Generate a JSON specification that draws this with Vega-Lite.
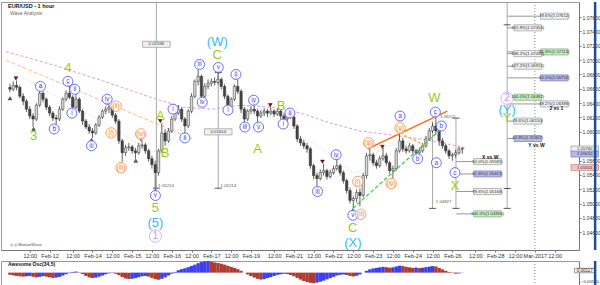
{
"$schema": "https://vega.github.io/schema/vega-lite/v6.json",
"padding": 0,
"spacing": 0,
"background": "white",
"config": {"font": "Liberation Sans", "view": {"stroke": "#999"}},
"datasets": {
"candles": [
{"t":0,"o":1.06621,"h":1.06676,"l":1.06551,"c":1.06593},
{"t":2,"o":1.06593,"h":1.06704,"l":1.06565,"c":1.06648},
{"t":4,"o":1.06648,"h":1.06717,"l":1.06579,"c":1.06621},
{"t":6,"o":1.06621,"h":1.06648,"l":1.06468,"c":1.06496},
{"t":8,"o":1.06496,"h":1.06538,"l":1.06372,"c":1.06427},
{"t":10,"o":1.06427,"h":1.06455,"l":1.06275,"c":1.06316},
{"t":12,"o":1.06316,"h":1.06358,"l":1.06178,"c":1.06220},
{"t":14,"o":1.06220,"h":1.06261,"l":1.06067,"c":1.06178},
{"t":16,"o":1.06178,"h":1.06399,"l":1.06150,"c":1.06372},
{"t":18,"o":1.06372,"h":1.06593,"l":1.06344,"c":1.06538},
{"t":20,"o":1.06538,"h":1.06565,"l":1.06413,"c":1.06455},
{"t":22,"o":1.06455,"h":1.06482,"l":1.06303,"c":1.06344},
{"t":24,"o":1.06344,"h":1.06372,"l":1.06220,"c":1.06261},
{"t":26,"o":1.06261,"h":1.06289,"l":1.06150,"c":1.06192},
{"t":28,"o":1.06192,"h":1.06233,"l":1.06109,"c":1.06178},
{"t":30,"o":1.06178,"h":1.06358,"l":1.06150,"c":1.06316},
{"t":32,"o":1.06316,"h":1.06482,"l":1.06289,"c":1.06455},
{"t":34,"o":1.06455,"h":1.06579,"l":1.06427,"c":1.06538},
{"t":36,"o":1.06538,"h":1.06634,"l":1.06455,"c":1.06482},
{"t":38,"o":1.06482,"h":1.06510,"l":1.06289,"c":1.06344},
{"t":40,"o":1.06344,"h":1.06524,"l":1.06316,"c":1.06455},
{"t":42,"o":1.06455,"h":1.06482,"l":1.06261,"c":1.06289},
{"t":44,"o":1.06289,"h":1.06316,"l":1.06095,"c":1.06150},
{"t":46,"o":1.06150,"h":1.06178,"l":1.06040,"c":1.06067},
{"t":48,"o":1.06067,"h":1.06109,"l":1.05971,"c":1.06012},
{"t":50,"o":1.06012,"h":1.06054,"l":1.05915,"c":1.05984},
{"t":52,"o":1.05984,"h":1.06123,"l":1.05957,"c":1.06095},
{"t":54,"o":1.06095,"h":1.06233,"l":1.06067,"c":1.06206},
{"t":56,"o":1.06206,"h":1.06316,"l":1.06178,"c":1.06289},
{"t":58,"o":1.06289,"h":1.06358,"l":1.06247,"c":1.06316},
{"t":60,"o":1.06316,"h":1.06385,"l":1.06261,"c":1.06344},
{"t":62,"o":1.06344,"h":1.06372,"l":1.06192,"c":1.06233},
{"t":64,"o":1.06233,"h":1.06261,"l":1.06109,"c":1.06150},
{"t":66,"o":1.06150,"h":1.06178,"l":1.05832,"c":1.05874},
{"t":68,"o":1.05874,"h":1.05901,"l":1.05583,"c":1.05708},
{"t":70,"o":1.05708,"h":1.05818,"l":1.05666,"c":1.05777},
{"t":72,"o":1.05777,"h":1.05846,"l":1.05735,"c":1.05791},
{"t":74,"o":1.05791,"h":1.05818,"l":1.05694,"c":1.05735},
{"t":76,"o":1.05735,"h":1.05777,"l":1.05625,"c":1.05708},
{"t":78,"o":1.05708,"h":1.05846,"l":1.05680,"c":1.05805},
{"t":80,"o":1.05805,"h":1.05888,"l":1.05763,"c":1.05818},
{"t":82,"o":1.05818,"h":1.05846,"l":1.05694,"c":1.05735},
{"t":84,"o":1.05735,"h":1.05763,"l":1.05583,"c":1.05625},
{"t":86,"o":1.05625,"h":1.05666,"l":1.05486,"c":1.05542},
{"t":88,"o":1.05542,"h":1.05597,"l":1.05214,"c":1.05431},
{"t":90,"o":1.05431,"h":1.05763,"l":1.05390,"c":1.05735},
{"t":92,"o":1.05735,"h":1.06123,"l":1.05708,"c":1.05984},
{"t":94,"o":1.05984,"h":1.06040,"l":1.05805,"c":1.05874},
{"t":96,"o":1.05874,"h":1.06054,"l":1.05846,"c":1.06012},
{"t":98,"o":1.06012,"h":1.06220,"l":1.05984,"c":1.06178},
{"t":100,"o":1.06178,"h":1.06316,"l":1.06150,"c":1.06261},
{"t":102,"o":1.06261,"h":1.06372,"l":1.06233,"c":1.06316},
{"t":104,"o":1.06316,"h":1.06344,"l":1.06137,"c":1.06178},
{"t":106,"o":1.06178,"h":1.06206,"l":1.05957,"c":1.06081},
{"t":108,"o":1.06081,"h":1.06316,"l":1.06054,"c":1.06289},
{"t":110,"o":1.06289,"h":1.06538,"l":1.06261,"c":1.06496},
{"t":112,"o":1.06496,"h":1.06731,"l":1.06468,"c":1.06704},
{"t":114,"o":1.06704,"h":1.06870,"l":1.06648,"c":1.06773},
{"t":116,"o":1.06773,"h":1.06800,"l":1.06385,"c":1.06496},
{"t":118,"o":1.06496,"h":1.06676,"l":1.06468,"c":1.06634},
{"t":120,"o":1.06634,"h":1.06731,"l":1.06593,"c":1.06676},
{"t":122,"o":1.06676,"h":1.06745,"l":1.06634,"c":1.06704},
{"t":124,"o":1.06704,"h":1.06759,"l":1.06648,"c":1.06690},
{"t":126,"o":1.06690,"h":1.06800,"l":1.06662,"c":1.06731},
{"t":128,"o":1.06731,"h":1.06759,"l":1.06593,"c":1.06634},
{"t":130,"o":1.06634,"h":1.06662,"l":1.06455,"c":1.06496},
{"t":132,"o":1.06496,"h":1.06524,"l":1.06316,"c":1.06358},
{"t":134,"o":1.06358,"h":1.06482,"l":1.06316,"c":1.06455},
{"t":136,"o":1.06455,"h":1.06662,"l":1.06427,"c":1.06634},
{"t":138,"o":1.06634,"h":1.06731,"l":1.06524,"c":1.06565},
{"t":140,"o":1.06565,"h":1.06593,"l":1.06261,"c":1.06316},
{"t":142,"o":1.06316,"h":1.06344,"l":1.06109,"c":1.06178},
{"t":144,"o":1.06178,"h":1.06316,"l":1.06150,"c":1.06289},
{"t":146,"o":1.06289,"h":1.06358,"l":1.06247,"c":1.06316},
{"t":148,"o":1.06316,"h":1.06372,"l":1.06247,"c":1.06289},
{"t":150,"o":1.06289,"h":1.06316,"l":1.06150,"c":1.06220},
{"t":152,"o":1.06220,"h":1.06303,"l":1.06192,"c":1.06261},
{"t":154,"o":1.06261,"h":1.06330,"l":1.06220,"c":1.06289},
{"t":156,"o":1.06289,"h":1.06316,"l":1.06206,"c":1.06261},
{"t":158,"o":1.06261,"h":1.06344,"l":1.06233,"c":1.06289},
{"t":160,"o":1.06289,"h":1.06316,"l":1.06206,"c":1.06247},
{"t":162,"o":1.06247,"h":1.06330,"l":1.06220,"c":1.06289},
{"t":164,"o":1.06289,"h":1.06316,"l":1.06178,"c":1.06220},
{"t":166,"o":1.06220,"h":1.06261,"l":1.06137,"c":1.06178},
{"t":168,"o":1.06178,"h":1.06289,"l":1.06150,"c":1.06261},
{"t":170,"o":1.06261,"h":1.06289,"l":1.06178,"c":1.06206},
{"t":172,"o":1.06206,"h":1.06233,"l":1.06040,"c":1.06081},
{"t":174,"o":1.06081,"h":1.06109,"l":1.05860,"c":1.05901},
{"t":176,"o":1.05901,"h":1.05943,"l":1.05805,"c":1.05846},
{"t":178,"o":1.05846,"h":1.05888,"l":1.05763,"c":1.05805},
{"t":180,"o":1.05805,"h":1.05846,"l":1.05708,"c":1.05763},
{"t":182,"o":1.05763,"h":1.05791,"l":1.05486,"c":1.05528},
{"t":184,"o":1.05528,"h":1.05556,"l":1.05334,"c":1.05390},
{"t":186,"o":1.05390,"h":1.05431,"l":1.05237,"c":1.05348},
{"t":188,"o":1.05348,"h":1.05473,"l":1.05320,"c":1.05431},
{"t":190,"o":1.05431,"h":1.05556,"l":1.05390,"c":1.05459},
{"t":192,"o":1.05459,"h":1.05486,"l":1.05334,"c":1.05376},
{"t":194,"o":1.05376,"h":1.05473,"l":1.05348,"c":1.05431},
{"t":196,"o":1.05431,"h":1.05528,"l":1.05403,"c":1.05486},
{"t":198,"o":1.05486,"h":1.05625,"l":1.05459,"c":1.05528},
{"t":200,"o":1.05528,"h":1.05556,"l":1.05390,"c":1.05431},
{"t":202,"o":1.05431,"h":1.05459,"l":1.05279,"c":1.05320},
{"t":204,"o":1.05320,"h":1.05348,"l":1.05141,"c":1.05182},
{"t":206,"o":1.05182,"h":1.05224,"l":1.05002,"c":1.05044},
{"t":208,"o":1.05044,"h":1.05099,"l":1.04933,"c":1.05071},
{"t":210,"o":1.05071,"h":1.05196,"l":1.05016,"c":1.05154},
{"t":212,"o":1.05154,"h":1.05210,"l":1.04961,"c":1.05113},
{"t":214,"o":1.05113,"h":1.05431,"l":1.05085,"c":1.05390},
{"t":216,"o":1.05390,"h":1.05708,"l":1.05348,"c":1.05666},
{"t":218,"o":1.05666,"h":1.05777,"l":1.05597,"c":1.05680},
{"t":220,"o":1.05680,"h":1.05708,"l":1.05528,"c":1.05569},
{"t":222,"o":1.05569,"h":1.05611,"l":1.05486,"c":1.05528},
{"t":224,"o":1.05528,"h":1.05666,"l":1.05500,"c":1.05625},
{"t":226,"o":1.05625,"h":1.05777,"l":1.05597,"c":1.05666},
{"t":228,"o":1.05666,"h":1.05708,"l":1.05528,"c":1.05569},
{"t":230,"o":1.05569,"h":1.05597,"l":1.05417,"c":1.05459},
{"t":232,"o":1.05459,"h":1.05528,"l":1.05348,"c":1.05486},
{"t":234,"o":1.05486,"h":1.05777,"l":1.05459,"c":1.05735},
{"t":236,"o":1.05735,"h":1.05984,"l":1.05708,"c":1.05874},
{"t":238,"o":1.05874,"h":1.05915,"l":1.05722,"c":1.05763},
{"t":240,"o":1.05763,"h":1.05805,"l":1.05694,"c":1.05735},
{"t":242,"o":1.05735,"h":1.05846,"l":1.05708,"c":1.05805},
{"t":244,"o":1.05805,"h":1.05832,"l":1.05694,"c":1.05735},
{"t":246,"o":1.05735,"h":1.05763,"l":1.05666,"c":1.05708},
{"t":248,"o":1.05708,"h":1.05777,"l":1.05625,"c":1.05735},
{"t":250,"o":1.05735,"h":1.05846,"l":1.05708,"c":1.05805},
{"t":252,"o":1.05805,"h":1.05943,"l":1.05777,"c":1.05901},
{"t":254,"o":1.05901,"h":1.06054,"l":1.05874,"c":1.06012},
{"t":256,"o":1.06012,"h":1.06123,"l":1.05984,"c":1.06081},
{"t":258,"o":1.06081,"h":1.06206,"l":1.05971,"c":1.06012},
{"t":260,"o":1.06012,"h":1.06054,"l":1.05805,"c":1.05874},
{"t":262,"o":1.05874,"h":1.05915,"l":1.05763,"c":1.05805},
{"t":264,"o":1.05805,"h":1.05832,"l":1.05694,"c":1.05735},
{"t":266,"o":1.05735,"h":1.05763,"l":1.05625,"c":1.05666},
{"t":268,"o":1.05666,"h":1.05708,"l":1.05597,"c":1.05680},
{"t":270,"o":1.05680,"h":1.05749,"l":1.05639,"c":1.05708},
{"t":272,"o":1.05708,"h":1.05791,"l":1.05680,"c":1.05763},
{"t":274,"o":1.05763,"h":1.05791,"l":1.05694,"c":1.05760}
],
"ao": [
{"t":0,"v":-0.0012,"d":"d"},{"t":2,"v":-0.0015,"d":"d"},{"t":4,"v":-0.0018,"d":"d"},{"t":6,"v":-0.0020,"d":"d"},
{"t":8,"v":-0.0022,"d":"d"},{"t":10,"v":-0.0020,"d":"u"},{"t":12,"v":-0.0018,"d":"u"},{"t":14,"v":-0.0023,"d":"d"},
{"t":16,"v":-0.0026,"d":"d"},{"t":18,"v":-0.0023,"d":"u"},{"t":20,"v":-0.0019,"d":"u"},{"t":22,"v":-0.0022,"d":"d"},
{"t":24,"v":-0.0026,"d":"d"},{"t":26,"v":-0.0029,"d":"d"},{"t":28,"v":-0.0027,"d":"u"},{"t":30,"v":-0.0023,"d":"u"},
{"t":32,"v":-0.0016,"d":"u"},{"t":34,"v":-0.0009,"d":"u"},{"t":36,"v":-0.0003,"d":"u"},{"t":38,"v":0.0004,"d":"u"},
{"t":40,"v":0.0006,"d":"u"},{"t":42,"v":0.0002,"d":"d"},{"t":44,"v":-0.0008,"d":"d"},{"t":46,"v":-0.0018,"d":"d"},
{"t":48,"v":-0.0026,"d":"d"},{"t":50,"v":-0.0030,"d":"d"},{"t":52,"v":-0.0027,"d":"u"},{"t":54,"v":-0.0022,"d":"u"},
{"t":56,"v":-0.0016,"d":"u"},{"t":58,"v":-0.0009,"d":"u"},{"t":60,"v":-0.0004,"d":"u"},{"t":62,"v":-0.0002,"d":"u"},
{"t":64,"v":-0.0006,"d":"d"},{"t":66,"v":-0.0014,"d":"d"},{"t":68,"v":-0.0024,"d":"d"},{"t":70,"v":-0.0032,"d":"d"},
{"t":72,"v":-0.0035,"d":"d"},{"t":74,"v":-0.0034,"d":"u"},{"t":76,"v":-0.0030,"d":"u"},{"t":78,"v":-0.0025,"d":"u"},
{"t":80,"v":-0.0020,"d":"u"},{"t":82,"v":-0.0018,"d":"u"},{"t":84,"v":-0.0022,"d":"d"},{"t":86,"v":-0.0029,"d":"d"},
{"t":88,"v":-0.0036,"d":"d"},{"t":90,"v":-0.0039,"d":"d"},{"t":92,"v":-0.0034,"d":"u"},{"t":94,"v":-0.0026,"d":"u"},
{"t":96,"v":-0.0016,"d":"u"},{"t":98,"v":-0.0006,"d":"u"},{"t":100,"v":0.0004,"d":"u"},{"t":102,"v":0.0013,"d":"u"},
{"t":104,"v":0.0019,"d":"u"},{"t":106,"v":0.0024,"d":"u"},{"t":108,"v":0.0030,"d":"u"},{"t":110,"v":0.0037,"d":"u"},
{"t":112,"v":0.0044,"d":"u"},{"t":114,"v":0.0052,"d":"u"},{"t":116,"v":0.0058,"d":"u"},{"t":118,"v":0.0062,"d":"u"},
{"t":120,"v":0.0064,"d":"u"},{"t":122,"v":0.0060,"d":"d"},{"t":124,"v":0.0056,"d":"d"},{"t":126,"v":0.0053,"d":"d"},
{"t":128,"v":0.0049,"d":"d"},{"t":130,"v":0.0044,"d":"d"},{"t":132,"v":0.0038,"d":"d"},{"t":134,"v":0.0032,"d":"d"},
{"t":136,"v":0.0026,"d":"d"},{"t":138,"v":0.0019,"d":"d"},{"t":140,"v":0.0010,"d":"d"},{"t":142,"v":0.0000,"d":"d"},
{"t":144,"v":-0.0010,"d":"d"},{"t":146,"v":-0.0019,"d":"d"},{"t":148,"v":-0.0027,"d":"d"},{"t":150,"v":-0.0034,"d":"d"},
{"t":152,"v":-0.0038,"d":"d"},{"t":154,"v":-0.0036,"d":"u"},{"t":156,"v":-0.0030,"d":"u"},{"t":158,"v":-0.0024,"d":"u"},
{"t":160,"v":-0.0018,"d":"u"},{"t":162,"v":-0.0012,"d":"u"},{"t":164,"v":-0.0009,"d":"u"},{"t":166,"v":-0.0006,"d":"u"},
{"t":168,"v":-0.0008,"d":"d"},{"t":170,"v":-0.0013,"d":"d"},{"t":172,"v":-0.0020,"d":"d"},{"t":174,"v":-0.0029,"d":"d"},
{"t":176,"v":-0.0038,"d":"d"},{"t":178,"v":-0.0046,"d":"d"},{"t":180,"v":-0.0052,"d":"d"},{"t":182,"v":-0.0056,"d":"d"},
{"t":184,"v":-0.0058,"d":"d"},{"t":186,"v":-0.0055,"d":"u"},{"t":188,"v":-0.0050,"d":"u"},{"t":190,"v":-0.0044,"d":"u"},
{"t":192,"v":-0.0037,"d":"u"},{"t":194,"v":-0.0030,"d":"u"},{"t":196,"v":-0.0023,"d":"u"},{"t":198,"v":-0.0016,"d":"u"},
{"t":200,"v":-0.0012,"d":"u"},{"t":202,"v":-0.0010,"d":"u"},{"t":204,"v":-0.0013,"d":"d"},{"t":206,"v":-0.0018,"d":"d"},
{"t":208,"v":-0.0021,"d":"d"},{"t":210,"v":-0.0017,"d":"u"},{"t":212,"v":-0.0010,"d":"u"},{"t":214,"v":0.0000,"d":"u"},
{"t":216,"v":0.0010,"d":"u"},{"t":218,"v":0.0018,"d":"u"},{"t":220,"v":0.0023,"d":"u"},{"t":222,"v":0.0026,"d":"u"},
{"t":224,"v":0.0029,"d":"u"},{"t":226,"v":0.0032,"d":"u"},{"t":228,"v":0.0030,"d":"d"},{"t":230,"v":0.0027,"d":"d"},
{"t":232,"v":0.0029,"d":"u"},{"t":234,"v":0.0034,"d":"u"},{"t":236,"v":0.0038,"d":"u"},{"t":238,"v":0.0036,"d":"d"},
{"t":240,"v":0.0032,"d":"d"},{"t":242,"v":0.0029,"d":"d"},{"t":244,"v":0.0026,"d":"d"},{"t":246,"v":0.0028,"d":"u"},
{"t":248,"v":0.0025,"d":"d"},{"t":250,"v":0.0027,"d":"u"},{"t":252,"v":0.0030,"d":"u"},{"t":254,"v":0.0033,"d":"u"},
{"t":256,"v":0.0036,"d":"u"},{"t":258,"v":0.0034,"d":"d"},{"t":260,"v":0.0026,"d":"d"},{"t":262,"v":0.0018,"d":"d"},
{"t":264,"v":0.0010,"d":"d"},{"t":266,"v":0.0004,"d":"d"},{"t":268,"v":-0.0002,"d":"d"},{"t":270,"v":-0.0006,"d":"d"},
{"t":272,"v":-0.0004,"d":"u"},{"t":274,"v":-0.0001,"d":"u"}
],
"lows": [
{"t":0,"p":1.06468},{"t":14.3,"p":1.06040},{"t":27.4,"p":1.06081},{"t":49.4,"p":1.05888},{"t":67.3,"p":1.05556},
{"t":76.2,"p":1.05597},{"t":88.1,"p":1.05182},{"t":106,"p":1.05929},{"t":142.3,"p":1.06081},{"t":150,"p":1.06123},
{"t":186.3,"p":1.05210},{"t":207.7,"p":1.04905},{"t":231,"p":1.05320}
],
"highs": [
{"t":3.6,"p":1.06745},{"t":18.5,"p":1.06621},{"t":35.1,"p":1.06662},{"t":58.9,"p":1.06399},{"t":79.2,"p":1.05901},
{"t":91.1,"p":1.06150},{"t":126.2,"p":1.06828},{"t":136.9,"p":1.06759},{"t":147.6,"p":1.06399},{"t":157.7,"p":1.06372},
{"t":189.3,"p":1.05583},{"t":197.6,"p":1.05639},{"t":217.3,"p":1.05805},{"t":225.6,"p":1.05791},{"t":236.3,"p":1.06012},
{"t":257.7,"p":1.06233}
],
"blue": [
{"t":18.5,"p":1.06634,"s":"a"},{"t":26.8,"p":1.06040,"s":"b"},{"t":35.1,"p":1.06704,"s":"c"},{"t":39.3,"p":1.06593,"s":"ii"},
{"t":37.5,"p":1.06261,"s":"i"},{"t":49.4,"p":1.05805,"s":"iii"},{"t":58.9,"p":1.06455,"s":"iv"},{"t":88.1,"p":1.05113,"s":"v"},
{"t":98.8,"p":1.06316,"s":"i"},{"t":106,"p":1.05915,"s":"ii"},{"t":114.9,"p":1.06939,"s":"iii"},{"t":116.5,"p":1.06413,"s":"iv"},
{"t":126.2,"p":1.06897,"s":"v"},{"t":136.9,"p":1.06800,"s":"ii"},{"t":132.1,"p":1.06303,"s":"i"},{"t":142.3,"p":1.06067,"s":"iii"},
{"t":147.6,"p":1.06441,"s":"iv"},{"t":150.6,"p":1.06067,"s":"v"},{"t":165.5,"p":1.06109,"s":"i"},{"t":169.6,"p":1.06261,"s":"ii"},
{"t":186.3,"p":1.05168,"s":"iii"},{"t":197.6,"p":1.05680,"s":"iv"},{"t":207.7,"p":1.04837,"s":"v"},{"t":236.3,"p":1.06220,"s":"a"},
{"t":257.7,"p":1.06275,"s":"c"},{"t":261.3,"p":1.06081,"s":"b"},{"t":247,"p":1.05625,"s":"b"},{"t":258.3,"p":1.05569,"s":"a"},
{"t":269.6,"p":1.05431,"s":"c"}
],
"orange": [
{"t":61.3,"p":1.05984,"s":"(i)"},{"t":64.3,"p":1.06358,"s":"(ii)"},{"t":67.3,"p":1.05500,"s":"(iii)"},{"t":79.2,"p":1.05971,"s":"(iv)"},
{"t":210.7,"p":1.05307,"s":"(i)"},{"t":212.5,"p":1.04850,"s":"(ii)"},{"t":217.3,"p":1.05846,"s":"(iii)"},{"t":231,"p":1.05279,"s":"(iv)"},
{"t":236.3,"p":1.06054,"s":"(v)"}
],
"green": [
{"t":35.1,"p":1.06883,"s":"4"},{"t":14.3,"p":1.05943,"s":"3"},{"t":88.1,"p":1.04933,"s":"5"},{"t":91.1,"p":1.06220,"s":"A"},
{"t":94,"p":1.05708,"s":"B"},{"t":125.6,"p":1.07077,"s":"C"},{"t":150,"p":1.05763,"s":"A"},{"t":164.3,"p":1.06358,"s":"B"},
{"t":207.7,"p":1.04657,"s":"C"},{"t":257.1,"p":1.06468,"s":"W"},{"t":269.6,"p":1.05251,"s":"X"},{"t":301.2,"p":1.06192,"s":"Y"}
],
"cyan": [
{"t":88.1,"p":1.04726,"s":"(5)"},{"t":125.6,"p":1.07257,"s":"(W)"},{"t":207.7,"p":1.04449,"s":"(X)"},{"t":301.2,"p":1.06303,"s":"(Y)"}
],
"purple": [
{"t":88.1,"p":1.04546,"s":"1"},{"t":301.2,"p":1.06468,"s":"2"}
],
"lines": [
{"id":"ma","t":-2.4,"p":1.07119},{"id":"ma","t":27.4,"p":1.06925},{"id":"ma","t":57.1,"p":1.06704},{"id":"ma","t":86.9,"p":1.06468},
{"id":"ma","t":104.8,"p":1.06344},{"id":"ma","t":122.6,"p":1.06316},{"id":"ma","t":140.5,"p":1.06372},{"id":"ma","t":158.3,"p":1.06344},
{"id":"ma","t":176.2,"p":1.06261},{"id":"ma","t":194,"p":1.06123},{"id":"ma","t":211.9,"p":1.06012},{"id":"ma","t":235.7,"p":1.05943},
{"id":"ma","t":259.5,"p":1.05860},{"id":"ma","t":275.6,"p":1.05777},
{"id":"od","t":-2.4,"p":1.06998},{"id":"od","t":110.7,"p":1.05901},
{"id":"lb","t":6.5,"p":1.06773},{"id":"lb","t":33.3,"p":1.06427},{"id":"lb","t":63.1,"p":1.06040},{"id":"lb","t":86.9,"p":1.05735},
{"id":"lb","t":91.1,"p":1.05708},{"id":"lb","t":101.8,"p":1.06012},{"id":"lb","t":116.7,"p":1.06427},{"id":"lb","t":131.5,"p":1.06676},
{"id":"lb","t":137.5,"p":1.06634},{"id":"lb","t":152.4,"p":1.06316},{"id":"lb","t":176.2,"p":1.05943},{"id":"lb","t":200,"p":1.05597},
{"id":"lb","t":208.9,"p":1.05431},{"id":"lb","t":223.8,"p":1.05735},{"id":"lb","t":241.7,"p":1.05874},{"id":"lb","t":265.5,"p":1.05971},
{"id":"os","t":216.7,"p":1.05763},{"id":"os","t":264.9,"p":1.06289},
{"id":"gd","t":207.7,"p":1.04933},{"id":"gd","t":261.3,"p":1.06040},
{"id":"yd","t":236.3,"p":1.05984},{"id":"yd","t":251.8,"p":1.05805}
],
"verts": [
{"t":88.7,"p":1.0781,"p2":1.05214},{"t":126.2,"p":1.06828,"p2":1.05214},{"t":301.2,"p":1.0781,"p2":1.04933},
{"t":270.2,"p":1.06192,"p2":1.04933},{"t":256,"p":1.0615,"p2":1.04933}
],
"tees": [
{"t":88.7,"p":1.05214},{"t":126.2,"p":1.05214},{"t":126.2,"p":1.06828},{"t":301.2,"p":1.07492},{"t":301.2,"p":1.05210},
{"t":301.2,"p":1.04933},{"t":270.2,"p":1.06192},{"t":270.2,"p":1.04933},{"t":256,"p":1.04933}
],
"fibl": [
{"t":301.2,"t2":324.4,"p":1.07612},{"t":301.2,"t2":306,"p":1.07450},{"t":301.2,"t2":324.4,"p":1.07114},{"t":301.2,"t2":306,"p":1.07090},
{"t":301.2,"t2":306,"p":1.06915},{"t":301.2,"t2":324.4,"p":1.06752},{"t":301.2,"t2":306,"p":1.06482},{"t":301.2,"t2":324.4,"p":1.06389},
{"t":301.2,"t2":306,"p":1.06150},{"t":301.2,"t2":306,"p":1.05907},
{"t":270.2,"t2":281.5,"p":1.05585},{"t":270.2,"t2":281.5,"p":1.05413},{"t":270.2,"t2":281.5,"p":1.05168},{"t":270.2,"t2":281.5,"p":1.04856}
],
"fibb": [
{"t":329.8,"p":1.07612,"s":"78.6%(1.07612)","k":"g"},{"t":313.7,"p":1.07450,"s":"161.8%(1.07450)","k":"g"},
{"t":329.8,"p":1.07114,"s":"61.8%(1.07114)","k":"n"},{"t":313.7,"p":1.07090,"s":"138.2%(1.07090)","k":"g"},
{"t":313.7,"p":1.06915,"s":"127.2%(1.06915)","k":"g"},{"t":329.8,"p":1.06752,"s":"50.0%(1.06752)","k":"b"},
{"t":313.7,"p":1.06482,"s":"100.0%(1.06482)","k":"n"},{"t":329.8,"p":1.06389,"s":"38.2%(1.06389)","k":"g"},
{"t":313.7,"p":1.06150,"s":"78.6%(1.06150)","k":"g"},{"t":313.7,"p":1.05907,"s":"61.8%(1.05907)","k":"b"},
{"t":289.3,"p":1.05585,"s":"50.0%(1.05585)","k":"g"},{"t":289.3,"p":1.05413,"s":"61.8%(1.05413)","k":"b"},
{"t":289.3,"p":1.05168,"s":"78.6%(1.05168)","k":"g"},{"t":289.3,"p":1.04856,"s":"100.0%(1.04856)","k":"n"},
{"t":88.7,"p":1.07220,"s":"0.02596","k":"g"},{"t":126.2,"p":1.06000,"s":"0.01614","k":"g"},
{"t":348.2,"p":1.05760,"s":"1.05760","k":"g"},{"t":348.2,"p":1.05690,"s":"1.05612","k":"b"},{"t":348.2,"p":1.05501,"s":"1.05501","k":"r"}
],
"notes": [
{"t":89.9,"p":1.05245,"s":"1.05214"},{"t":127.6,"p":1.05245,"s":"1.05214"},{"t":260.5,"p":1.06200,"s":"1.06212"},{"t":258,"p":1.05016,"s":"1.04827"}
],
"bold": [
{"t":291,"p":1.05650,"s":"X vs W"},{"t":331,"p":1.06330,"s":"2 vs 1"},{"t":319,"p":1.05818,"s":"Y vs W"}
]
},
"vconcat": [
{
"width": 578, "height": 248,
"resolve": {"axis": {"y": "independent"}},
"encoding": {"x": {"field": "t", "type": "quantitative", "scale": {"domain": [-2.4, 341.7], "nice": false, "zero": false},
 "axis": {"title": null, "grid": false, "values": [12,24,38,50,62,74,86,98,110,122,134,146,160,172,184,196,208,220,232,244,256,268,282,294,306,318,330],
 "labelExpr": "['12:00','Feb-12','12:00','Feb-14','12:00','Feb-15','12:00','Feb-16','12:00','Feb-17','12:00','Feb-19','12:00','Feb-21','12:00','Feb-22','12:00','Feb-23','12:00','Feb-24','12:00','Feb-26','12:00','Feb-28','12:00','Mar-2017','12:00'][indexof([12,24,38,50,62,74,86,98,110,122,134,146,160,172,184,196,208,220,232,244,256,268,282,294,306,318,330], datum.value)]",
 "tickSize": 2, "labelFontSize": 5.5, "labelPadding": 1, "labelColor": "#333", "domainColor": "#777", "tickColor": "#777", "labelOverlap": false, "labelFlush": false}}},
"layer": [
{"data": {"values": [{"t": 318}]}, "mark": {"type": "rule", "color": "#888", "strokeDash": [1, 2], "strokeWidth": 1}, "encoding": {}},
{"data": {"name": "lines"}, "transform": [{"filter": "datum.id == 'ma'"}], "mark": {"type": "line", "color": "#dd9ddd", "strokeWidth": 1, "strokeDash": [3, 2]},
 "encoding": {"y": {"field": "p", "type": "quantitative", "scale": {"domain": [1.043525, 1.0781], "nice": false, "zero": false}, "axis": null}}},
{"data": {"name": "lines"}, "transform": [{"filter": "datum.id == 'od'"}], "mark": {"type": "line", "color": "#ffbb88", "strokeWidth": 1, "strokeDash": [4, 2]},
 "encoding": {"y": {"field": "p", "type": "quantitative", "axis": null}}},
{"data": {"name": "lines"}, "transform": [{"filter": "datum.id == 'lb'"}], "mark": {"type": "line", "color": "#a9c6ff", "strokeWidth": 0.8, "strokeDash": [1, 2], "interpolate": "monotone"},
 "encoding": {"y": {"field": "p", "type": "quantitative", "axis": null}}},
{"data": {"name": "verts"}, "mark": {"type": "rule", "color": "#aaa", "strokeWidth": 1},
 "encoding": {"y": {"field": "p", "type": "quantitative", "axis": null}, "y2": {"field": "p2"}}},
{"data": {"name": "fibl"}, "mark": {"type": "rule", "color": "#999", "strokeWidth": 1},
 "encoding": {"x2": {"field": "t2"}, "y": {"field": "p", "type": "quantitative", "axis": null}}},
{"data": {"name": "tees"}, "mark": {"type": "tick", "orient": "horizontal", "color": "#111", "size": 7, "thickness": 1},
 "encoding": {"y": {"field": "p", "type": "quantitative", "axis": null}}},
{"data": {"name": "candles"}, "mark": {"type": "rule", "color": "#3a3a3a", "strokeWidth": 0.8},
 "encoding": {"y": {"field": "l", "type": "quantitative", "axis": {"orient": "right", "title": null, "grid": false, "format": ".5f",
   "values": [1.046,1.048,1.05,1.052,1.054,1.056,1.06,1.062,1.064,1.066,1.068,1.07,1.072,1.074,1.076],
   "tickSize": 2, "labelFontSize": 5, "labelPadding": 1, "labelColor": "#333", "domainColor": "#777", "tickColor": "#777"}}, "y2": {"field": "h"}}},
{"data": {"name": "candles"}, "mark": {"type": "bar", "size": 2.4, "stroke": "#303030", "strokeWidth": 0.5},
 "encoding": {"y": {"field": "o", "type": "quantitative", "axis": null}, "y2": {"field": "c"},
  "fill": {"condition": {"test": "datum.c < datum.o", "value": "#454545"}, "value": "#d8d8d8"}}},
{"data": {"name": "lines"}, "transform": [{"filter": "datum.id == 'os'"}], "mark": {"type": "line", "color": "#ff6a10", "strokeWidth": 1.5},
 "encoding": {"y": {"field": "p", "type": "quantitative", "axis": null}}},
{"data": {"name": "lines"}, "transform": [{"filter": "datum.id == 'gd'"}], "mark": {"type": "line", "color": "#33cc33", "strokeWidth": 1.2, "strokeDash": [4, 2]},
 "encoding": {"y": {"field": "p", "type": "quantitative", "axis": null}}},
{"data": {"name": "lines"}, "transform": [{"filter": "datum.id == 'yd'"}], "mark": {"type": "line", "color": "#ffaa22", "strokeWidth": 1.2, "strokeDash": [3, 2]},
 "encoding": {"y": {"field": "p", "type": "quantitative", "axis": null}}},
{"data": {"name": "lows"}, "mark": {"type": "point", "shape": "triangle-up", "filled": true, "fill": "#2e8b2e", "stroke": "#113311", "strokeWidth": 0.5, "size": 14, "opacity": 1},
 "encoding": {"y": {"field": "p", "type": "quantitative", "axis": null}}},
{"data": {"name": "highs"}, "mark": {"type": "point", "shape": "triangle-down", "filled": true, "fill": "#7a1a1a", "stroke": "#330000", "strokeWidth": 0.5, "size": 14, "opacity": 1},
 "encoding": {"y": {"field": "p", "type": "quantitative", "axis": null}}},
{"data": {"name": "blue"}, "mark": {"type": "point", "shape": "circle", "filled": true, "fill": "white", "fillOpacity": 0.85, "stroke": "#6b6bff", "strokeWidth": 1, "size": 100, "opacity": 1},
 "encoding": {"y": {"field": "p", "type": "quantitative", "axis": null}}},
{"data": {"name": "blue"}, "mark": {"type": "text", "color": "#4a4af0", "fontSize": 6.5, "baseline": "middle", "align": "center"},
 "encoding": {"y": {"field": "p", "type": "quantitative", "axis": null}, "text": {"field": "s"}}},
{"data": {"name": "orange"}, "mark": {"type": "point", "shape": "circle", "filled": true, "fill": "white", "fillOpacity": 0.85, "stroke": "#ffa060", "strokeWidth": 1, "size": 110, "opacity": 1},
 "encoding": {"y": {"field": "p", "type": "quantitative", "axis": null}}},
{"data": {"name": "orange"}, "mark": {"type": "text", "color": "#ff7a20", "fontSize": 6.5, "baseline": "middle", "align": "center"},
 "encoding": {"y": {"field": "p", "type": "quantitative", "axis": null}, "text": {"field": "s"}}},
{"data": {"name": "green"}, "mark": {"type": "text", "color": "#99cc11", "fontSize": 13, "baseline": "middle", "align": "center"},
 "encoding": {"y": {"field": "p", "type": "quantitative", "axis": null}, "text": {"field": "s"}}},
{"data": {"name": "cyan"}, "mark": {"type": "text", "color": "#33bbee", "fontSize": 13, "baseline": "middle", "align": "center"},
 "encoding": {"y": {"field": "p", "type": "quantitative", "axis": null}, "text": {"field": "s"}}},
{"data": {"name": "purple"}, "mark": {"type": "point", "shape": "circle", "filled": true, "fill": "white", "fillOpacity": 0.7, "stroke": "#d6b0ff", "strokeWidth": 1, "size": 150, "opacity": 1},
 "encoding": {"y": {"field": "p", "type": "quantitative", "axis": null}}},
{"data": {"name": "purple"}, "mark": {"type": "text", "color": "#cc99ff", "fontSize": 11, "baseline": "middle", "align": "center"},
 "encoding": {"y": {"field": "p", "type": "quantitative", "axis": null}, "text": {"field": "s"}}},
{"data": {"name": "fibb"}, "mark": {"type": "point", "shape": "M-1,-0.22L1,-0.22L1,0.22L-1,0.22Z", "filled": true, "size": 760, "strokeWidth": 0.6, "opacity": 1},
 "encoding": {"y": {"field": "p", "type": "quantitative", "axis": null},
  "fill": {"field": "k", "type": "nominal", "scale": {"domain": ["g","n","b","r"], "range": ["#f0f0f0","#c6efbd","#b4b8ea","#f3c4c4"]}, "legend": null},
  "stroke": {"field": "k", "type": "nominal", "scale": {"domain": ["g","n","b","r"], "range": ["#8a8a8a","#6aa060","#6a70c0","#c07070"]}, "legend": null}}},
{"data": {"name": "fibb"}, "mark": {"type": "text", "color": "#333", "fontSize": 4.3, "baseline": "middle", "align": "center"},
 "encoding": {"y": {"field": "p", "type": "quantitative", "axis": null}, "text": {"field": "s"}}},
{"data": {"name": "notes"}, "mark": {"type": "text", "color": "#555", "fontSize": 4.3, "baseline": "middle", "align": "left"},
 "encoding": {"y": {"field": "p", "type": "quantitative", "axis": null}, "text": {"field": "s"}}},
{"data": {"name": "bold"}, "mark": {"type": "text", "color": "#111", "fontSize": 5, "fontWeight": "bold", "baseline": "middle", "align": "center"},
 "encoding": {"y": {"field": "p", "type": "quantitative", "axis": null}, "text": {"field": "s"}}},
{"data": {"values": [{"t": -1.2, "p": 1.0778, "s": "EUR/USD - 1 hour"}]}, "mark": {"type": "text", "color": "#111", "fontSize": 5.5, "fontWeight": "bold", "baseline": "top", "align": "left"},
 "encoding": {"y": {"field": "p", "type": "quantitative", "axis": null}, "text": {"field": "s"}}},
{"data": {"values": [{"t": 0, "p": 1.07655, "s": "Wave Analysis"}]}, "mark": {"type": "text", "color": "#666", "fontSize": 5, "baseline": "middle", "align": "left"},
 "encoding": {"y": {"field": "p", "type": "quantitative", "axis": null}, "text": {"field": "s"}}},
{"data": {"values": [{"t": 0, "p": 1.04420, "s": "◎ ◎  MotiveWave"}]}, "mark": {"type": "text", "color": "#555", "fontSize": 4.3, "baseline": "middle", "align": "left"},
 "encoding": {"y": {"field": "p", "type": "quantitative", "axis": null}, "text": {"field": "s"}}},
{"data": {"values": [{"t": 354.5}]}, "mark": {"type": "rule", "color": "#1f4f8f", "strokeWidth": 2.5},
 "encoding": {"y": {"datum": 1.0781, "type": "quantitative", "axis": null}, "y2": {"datum": 1.043525}}}
]
},
{
"width": 578, "height": 24,
"resolve": {"axis": {"y": "independent"}},
"encoding": {"x": {"field": "t", "type": "quantitative", "scale": {"domain": [-2.4, 341.7], "nice": false, "zero": false}, "axis": null}},
"layer": [
{"data": {"name": "ao"}, "mark": {"type": "bar", "size": 3.4},
 "encoding": {"y": {"field": "v", "type": "quantitative", "scale": {"domain": [-0.0068, 0.0064], "nice": false, "zero": false},
   "axis": {"orient": "right", "title": null, "grid": false, "format": ".5f", "values": [-0.005], "tickSize": 1, "labelFontSize": 4.3, "labelPadding": 0.5, "labelColor": "#333", "domainColor": "#777", "tickColor": "#777"}},
  "color": {"field": "d", "type": "nominal", "scale": {"domain": ["u","d"], "range": ["#3d3df2","#b03a30"]}, "legend": null}}},
{"data": {"values": [{"v": 0.00117}]}, "mark": {"type": "rule", "color": "#777", "strokeDash": [1, 1], "strokeWidth": 1},
 "encoding": {"x": {"datum": -2.4, "type": "quantitative"}, "x2": {"datum": 348}, "y": {"field": "v", "type": "quantitative", "axis": null}}},
{"data": {"values": [{"t": 318}]}, "mark": {"type": "rule", "color": "#888", "strokeDash": [1, 2], "strokeWidth": 1}, "encoding": {}},
{"data": {"values": [{"t": -1.2, "v": 0.0061, "s": "Awesome Osc(34,5)"}]}, "mark": {"type": "text", "color": "#111", "fontSize": 5, "fontWeight": "bold", "baseline": "top", "align": "left"},
 "encoding": {"y": {"field": "v", "type": "quantitative", "axis": null}, "text": {"field": "s"}}},
{"data": {"values": [{"t": 348.2, "v": 0.00117, "s": "0.00117"}]}, "mark": {"type": "point", "shape": "M-1,-0.22L1,-0.22L1,0.22L-1,0.22Z", "filled": true, "size": 420, "fill": "#f4f4f4", "stroke": "#666", "strokeWidth": 0.6, "opacity": 1},
 "encoding": {"y": {"field": "v", "type": "quantitative", "axis": null}}},
{"data": {"values": [{"t": 348.2, "v": 0.00117, "s": "0.00117"}]}, "mark": {"type": "text", "color": "#222", "fontSize": 4.5, "baseline": "middle", "align": "center"},
 "encoding": {"y": {"field": "v", "type": "quantitative", "axis": null}, "text": {"field": "s"}}},
{"data": {"values": [{"t": 354.5}]}, "mark": {"type": "rule", "color": "#1f4f8f", "strokeWidth": 2.5},
 "encoding": {"y": {"datum": 0.0064, "type": "quantitative", "axis": null}, "y2": {"datum": -0.0068}}}
]
}
]
}
